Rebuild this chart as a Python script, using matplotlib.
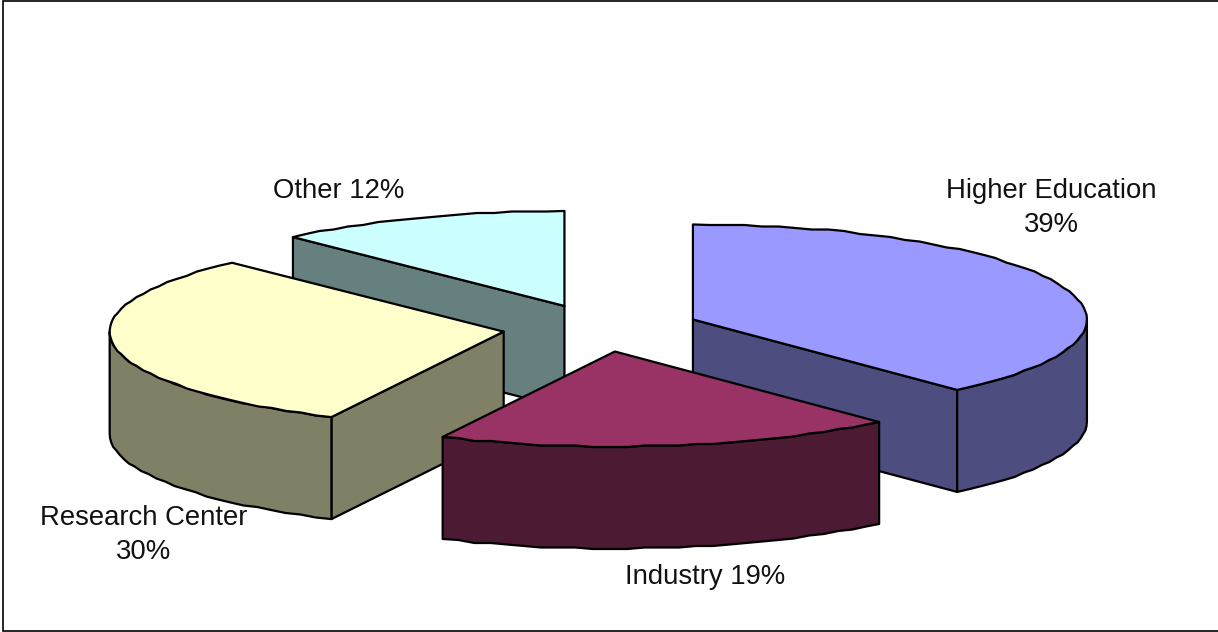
#!/usr/bin/env python

import numpy as np
import matplotlib
matplotlib.use("Agg")
import matplotlib.pyplot as plt
from matplotlib.patches import Polygon, Rectangle

# shares in clockwise order from 12 o'clock
names = ["Higher Education", "Industry", "Research Center", "Other"]
shares = [38.3, 18.9, 30.7, 12.1]
labels = ["Higher Education\n39%", "Industry 19%", "Research Center\n30%", "Other 12%"]

top_colors = ["#9999FF", "#993366", "#FFFFCC", "#CCFFFF"]
side_colors = ["#4D4D80", "#4D1A33", "#808066", "#668080"]
label_pos = [(1051, 208), (705, 577), (144, 535), (339, 191)]
draw_order = [3, 2, 0, 1]

W, H = 1218, 632
cx, cy = 601, 328
rx, ry = 394, 95
depth = 102
explode = 0.25

plt.rcParams["font.family"] = "Liberation Sans"

fig = plt.figure(figsize=(W/100, H/100), dpi=100)
ax = fig.add_axes([0, 0, 1, 1])
ax.set_xlim(0, W)
ax.set_ylim(H, 0)
ax.axis("off")

ax.add_patch(Rectangle((2.5, 1), W, 630, fc="white", ec="black", lw=1.2))

edges = np.cumsum([0] + shares)*3.6


def point(ax0, ay0, t):
    r = np.radians(t)
    return ax0 + rx*np.sin(r), ay0 - ry*np.cos(r)


def arc(ax0, ay0, t0, t1):
    # small steps, the curve in the original is a bit stepped
    n = max(2, int((t1-t0)/2.5)+1)
    ts = np.linspace(t0, t1, n)
    pts = np.array([point(ax0, ay0, t) for t in ts])
    pts[1:-1, 1] = np.round(pts[1:-1, 1]/1.5)*1.5
    return pts


def add(pts, color):
    ax.add_patch(Polygon(pts, closed=True, fc=color, ec="black", lw=1.6, joinstyle="round"))


for i in draw_order:
    t0, t1 = edges[i], edges[i+1]
    mid = np.radians(0.5*(t0+t1))
    ax0 = cx + explode*rx*np.sin(mid)
    ay0 = cy - explode*ry*np.cos(mid)
    apex = np.array([ax0, ay0])
    down = np.array([0, depth])

    # walls facing the viewer
    if np.sin(np.radians(t0)) < -1e-6:
        p = np.array(point(ax0, ay0, t0))
        add([apex, p, p+down, apex+down], side_colors[i])
    if np.sin(np.radians(t1)) > 1e-6:
        p = np.array(point(ax0, ay0, t1))
        add([apex, p, p+down, apex+down], side_colors[i])

    # outer rim, front half only
    a, b = max(t0, 90), min(t1, 270)
    if b > a:
        rim = arc(ax0, ay0, a, b)
        add(np.vstack([rim, (rim+down)[::-1]]), side_colors[i])

    add(np.vstack([apex, arc(ax0, ay0, t0, t1)]), top_colors[i])

for lab, pos in zip(labels, label_pos):
    ax.text(pos[0], pos[1], lab, ha="center", va="center", fontsize=19.8, color="#111111", linespacing=1.38)

fig.savefig("out.png", dpi=100)
